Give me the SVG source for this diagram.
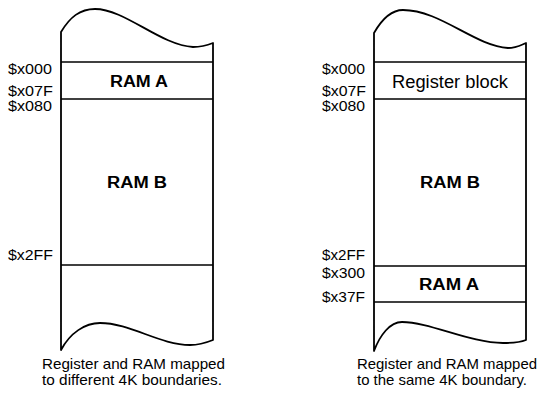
<svg xmlns="http://www.w3.org/2000/svg" width="540" height="393" viewBox="0 0 540 393">
<style>
  .outline{fill:none;stroke:#000;stroke-width:1.8;stroke-linejoin:round}
  .sep{stroke:#000;stroke-width:1.5}
  .addr{font-family:"Liberation Sans",Arial,sans-serif;font-size:15px;fill:#000}
  .tight{font-size:14px}
  .blk{font-family:"Liberation Sans",Arial,sans-serif;font-size:16px;font-weight:bold;fill:#000;text-anchor:middle}
  .reg{font-family:"Liberation Sans",Arial,sans-serif;font-size:18px;fill:#000;text-anchor:middle}
  .cap{font-family:"Liberation Sans",Arial,sans-serif;font-size:15px;fill:#000}
</style>
<rect width="540" height="393" fill="#fff"/>
<g id="map-left">
  <path class="outline" d="M61,32 C70,17 80,9 95,9 C125,9 160,45 193,47 C202,47 208,45 213,43 L213,340 C208,342 200,345 190,345 C160,345 130,323 100,323 C85,323 70,333 61,350 Z"/>
  <line class="sep" x1="61" y1="62" x2="213" y2="62"/>
  <line class="sep" x1="61" y1="99" x2="213" y2="99"/>
  <line class="sep" x1="61" y1="265" x2="213" y2="265"/>
  <g id="left-ramA"><text class="blk" x="139" y="87" textLength="58" lengthAdjust="spacingAndGlyphs">RAM A</text></g>
  <g id="left-ramB"><text class="blk" x="137" y="188" textLength="60" lengthAdjust="spacingAndGlyphs">RAM B</text></g>
  <text class="addr" x="8" y="74" textLength="44" lengthAdjust="spacingAndGlyphs">$x000</text>
  <text class="addr tight" x="8" y="96" textLength="45" lengthAdjust="spacingAndGlyphs">$x07F</text>
  <text class="addr tight" x="8" y="111" textLength="44" lengthAdjust="spacingAndGlyphs">$x080</text>
  <text class="addr" x="8" y="260" textLength="45" lengthAdjust="spacingAndGlyphs">$x2FF</text>
  <text class="cap" x="42" y="369" textLength="183" lengthAdjust="spacingAndGlyphs">Register and RAM mapped</text>
  <text class="cap" x="42" y="385" textLength="180" lengthAdjust="spacingAndGlyphs">to different 4K boundaries.</text>
</g>
<g id="map-right">
  <path class="outline" d="M374,33 C382,19 391,10 403,10 C440,10 475,46 508,48 C516,48 521,45 526,43 L526,340 C521,342 513,343 503,343 C470,343 430,322 402,322 C390,322 380,335 374,351 Z"/>
  <line class="sep" x1="374" y1="62" x2="526" y2="62"/>
  <line class="sep" x1="374" y1="99" x2="526" y2="99"/>
  <line class="sep" x1="374" y1="266" x2="526" y2="266"/>
  <line class="sep" x1="374" y1="302" x2="526" y2="302"/>
  <g id="right-register"><text class="reg" x="450" y="88" textLength="116" lengthAdjust="spacingAndGlyphs">Register block</text></g>
  <g id="right-ramB"><text class="blk" x="450" y="188" textLength="60" lengthAdjust="spacingAndGlyphs">RAM B</text></g>
  <g id="right-ramA"><text class="blk" x="449" y="290" textLength="60" lengthAdjust="spacingAndGlyphs">RAM A</text></g>
  <text class="addr" x="322" y="74" textLength="43" lengthAdjust="spacingAndGlyphs">$x000</text>
  <text class="addr tight" x="322" y="96" textLength="44" lengthAdjust="spacingAndGlyphs">$x07F</text>
  <text class="addr tight" x="322" y="111" textLength="43" lengthAdjust="spacingAndGlyphs">$x080</text>
  <text class="addr" x="322" y="260" textLength="43" lengthAdjust="spacingAndGlyphs">$x2FF</text>
  <text class="addr" x="322" y="278" textLength="43" lengthAdjust="spacingAndGlyphs">$x300</text>
  <text class="addr" x="322" y="302" textLength="43" lengthAdjust="spacingAndGlyphs">$x37F</text>
  <text class="cap" x="357" y="369" textLength="180" lengthAdjust="spacingAndGlyphs">Register and RAM mapped</text>
  <text class="cap" x="357" y="385" textLength="170" lengthAdjust="spacingAndGlyphs">to the same 4K boundary.</text>
</g>
<g id="connectors"/>
</svg>
